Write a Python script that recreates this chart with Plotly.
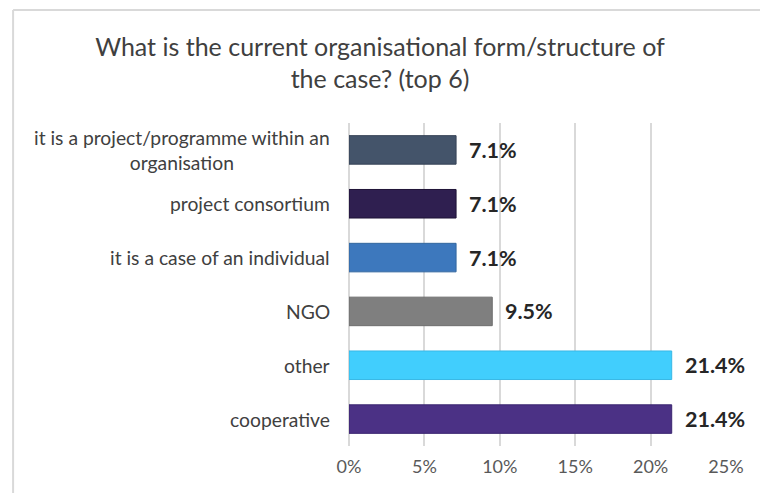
import plotly.graph_objects as go

# Survey results: share of cases by organisational form (top 6)
categories = [
    "cooperative",
    "other",
    "NGO",
    "it is a case of an individual",
    "project consortium",
    "it is a project/programme within an<br>organisation",
]
values = [21.4, 21.4, 9.5, 7.1, 7.1, 7.1]
value_labels = ["21.4%", "21.4%", "9.5%", "7.1%", "7.1%", "7.1%"]
bar_colors = ["#4b3185", "#41cefd", "#7f7f7f", "#3d78bd", "#2f1f50", "#44546a"]
edge_colors = ["#3a2570", "#38b8e6", "#6e6e6e", "#33679f", "#1e1236", "#364356"]
tick_vals = [0, 5, 10, 15, 20, 25]
tick_text = ["0%", "5%", "10%", "15%", "20%", "25%"]

FONT = "Lato"

fig = go.Figure(
    go.Bar(
        x=values,
        y=categories,
        orientation="h",
        marker=dict(color=bar_colors, line=dict(color=edge_colors, width=1)),
        hoverinfo="skip",
    )
)

# value labels to the right of each bar
for v, c, t in zip(values, categories, value_labels):
    fig.add_annotation(
        x=v, y=c, xref="x", yref="y", text=f"<b>{t}</b>",
        showarrow=False, xanchor="left", xshift=11,
        font=dict(family=FONT, size=21.5, color="#262626"),
    )

# category labels, centred line by line
for c in categories:
    fig.add_annotation(
        x=0, y=c, xref="paper", yref="y", text=c,
        showarrow=False, xanchor="right", xshift=-17, align="center",
        font=dict(family=FONT, size=19.3, color="#404040"),
    )

# chart frame (top and left edges)
frame = dict(color="#d9d9d9", width=2)
fig.add_shape(type="line", xref="paper", yref="paper",
              x0=-0.891, x1=2, y0=1.3498, y1=1.3498, line=frame)
fig.add_shape(type="line", xref="paper", yref="paper",
              x0=-0.891, x1=-0.891, y0=1.3498, y1=-0.5, line=frame)

fig.update_layout(
    width=760,
    height=493,
    margin=dict(l=349, r=34, t=123, b=47),
    paper_bgcolor="white",
    plot_bgcolor="white",
    bargap=0.47,
    showlegend=False,
    title=dict(
        text="What is the current organisational form/structure of<br>the case? (top 6)",
        x=0.5, xref="container", xanchor="center",
        y=0.887, yref="container", yanchor="middle",
        font=dict(family=FONT, size=25, color="#404040"),
    ),
    xaxis=dict(
        range=[0, 25],
        tickvals=tick_vals,
        ticktext=tick_text,
        showgrid=True,
        gridcolor="#d9d9d9",
        gridwidth=1.5,
        zeroline=True,
        zerolinecolor="#d9d9d9",
        zerolinewidth=1.5,
        showline=False,
        ticks="",
        ticklabelstandoff=8,
        tickfont=dict(family=FONT, size=18, color="#595959"),
        fixedrange=True,
    ),
    yaxis=dict(
        categoryorder="array",
        categoryarray=categories,
        showticklabels=False,
        showgrid=False,
        zeroline=False,
        ticks="",
        fixedrange=True,
    ),
)

fig.write_html("out.html")
